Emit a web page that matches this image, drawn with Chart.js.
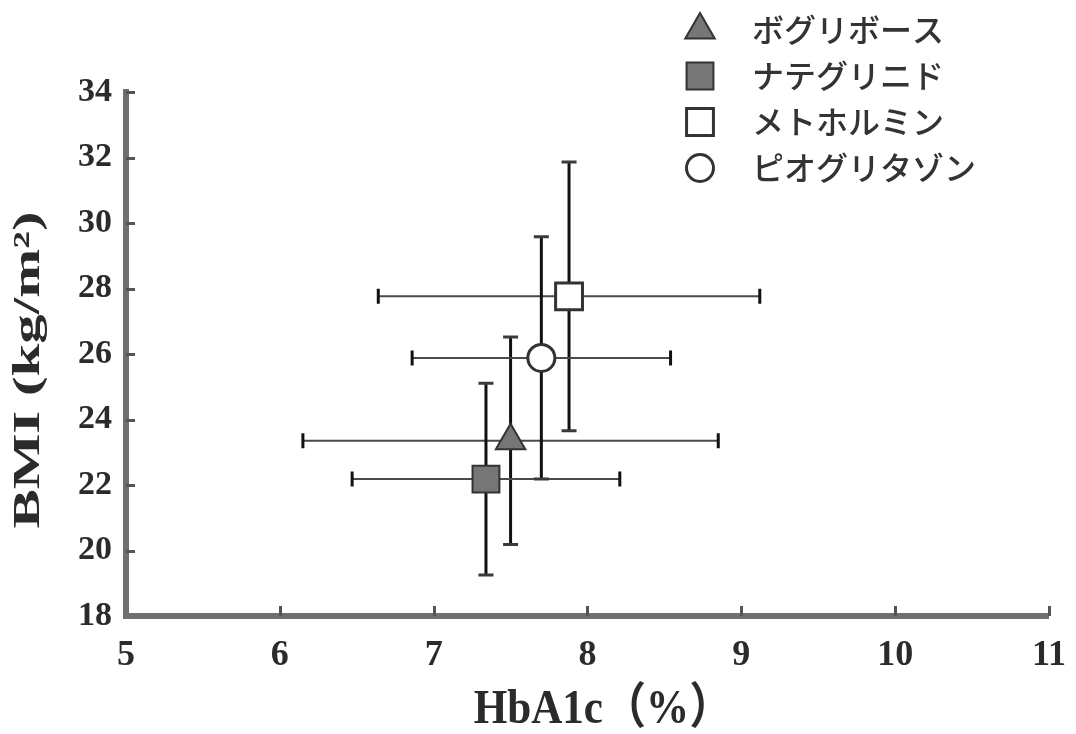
<!DOCTYPE html>
<html lang="ja">
<head>
  <meta charset="UTF-8">
  <title>HbA1c と BMI</title>
  <script src="https://cdn.jsdelivr.net/npm/chart.js"></script>
  <style>
    body {
      margin: 0;
      background: #fff;
    }
    #chart {
      display: block;
    }
  </style>
</head>
<body>
  <canvas id="chart" width="1076" height="734"></canvas>
  <script>
    // 薬剤ごとの平均値と標準偏差
    const drugs = ["ボグリボース", "ナテグリニド", "メトホルミン", "ピオグリタゾン"];
    const hba1cMean = [7.50, 7.34, 7.88, 7.70];
    const hba1cSD = [1.35, 0.87, 1.24, 0.84];
    const bmiMean = [23.35, 22.18, 27.76, 25.88];
    const bmiSD = [3.17, 2.93, 4.10, 3.70];

    const xTicks = [5, 6, 7, 8, 9, 10, 11];
    const yTicks = [18, 20, 22, 24, 26, 28, 30, 32, 34];

    const serif = "'Liberation Serif', 'Times New Roman', serif";
    const ink = "#2b2b2b";

    const markerStyles = [
      { pointStyle: "triangle", radius: 17, bg: "#767676", border: "#333", width: 2 },
      { pointStyle: "rect", radius: 19, bg: "#767676", border: "#333", width: 2 },
      { pointStyle: "rect", radius: 19, bg: "#ffffff", border: "#333", width: 3 },
      { pointStyle: "circle", radius: 13.5, bg: "#ffffff", border: "#333", width: 3 },
    ];

    const datasets = drugs.map((name, i) => ({
      label: name,
      data: [{ x: hba1cMean[i], y: bmiMean[i] }],
      pointStyle: markerStyles[i].pointStyle,
      pointRadius: markerStyles[i].radius,
      pointBackgroundColor: markerStyles[i].bg,
      pointBorderColor: markerStyles[i].border,
      pointBorderWidth: markerStyles[i].width,
    }));

    // エラーバー（縦：BMI、横：HbA1c）
    const errorBars = {
      id: "errorBars",
      beforeDatasetsDraw(chart) {
        const { ctx, scales: { x, y } } = chart;
        const cap = 7.5;
        ctx.save();
        drugs.forEach((_, i) => {
          const cx = x.getPixelForValue(hba1cMean[i]);
          const cy = y.getPixelForValue(bmiMean[i]);
          const x0 = x.getPixelForValue(hba1cMean[i] - hba1cSD[i]);
          const x1 = x.getPixelForValue(hba1cMean[i] + hba1cSD[i]);
          const y0 = y.getPixelForValue(bmiMean[i] - bmiSD[i]);
          const y1 = y.getPixelForValue(bmiMean[i] + bmiSD[i]);

          // 横棒
          ctx.strokeStyle = "#4a4a4a";
          ctx.lineWidth = 2;
          ctx.beginPath();
          ctx.moveTo(x0, cy);
          ctx.lineTo(x1, cy);
          ctx.stroke();
          ctx.strokeStyle = "#111";
          ctx.lineWidth = 3;
          ctx.beginPath();
          ctx.moveTo(x0, cy - cap);
          ctx.lineTo(x0, cy + cap);
          ctx.moveTo(x1, cy - cap);
          ctx.lineTo(x1, cy + cap);
          ctx.stroke();

          // 縦棒
          ctx.strokeStyle = "#111";
          ctx.lineWidth = 3;
          ctx.beginPath();
          ctx.moveTo(cx, y0);
          ctx.lineTo(cx, y1);
          ctx.stroke();
          ctx.strokeStyle = "#3a3a3a";
          ctx.lineWidth = 3;
          ctx.beginPath();
          ctx.moveTo(cx - cap, y0);
          ctx.lineTo(cx + cap, y0);
          ctx.moveTo(cx - cap, y1);
          ctx.lineTo(cx + cap, y1);
          ctx.stroke();
        });
        ctx.restore();
      },
    };

    // 内向きの目盛り、軸タイトル、凡例
    const decorations = {
      id: "decorations",
      afterDraw(chart) {
        const { ctx, scales: { x, y }, chartArea } = chart;
        ctx.save();
        ctx.strokeStyle = "#555";
        ctx.lineWidth = 3;
        ctx.beginPath();
        yTicks.slice(1).forEach(v => {
          const py = Math.round(y.getPixelForValue(v)) + 0.5;
          ctx.moveTo(chartArea.left, py);
          ctx.lineTo(chartArea.left + 9, py);
        });
        xTicks.slice(1).forEach(v => {
          const px = Math.round(x.getPixelForValue(v)) + 0.5;
          ctx.moveTo(px, chartArea.bottom);
          ctx.lineTo(px, chartArea.bottom - 10);
        });
        ctx.stroke();

        // 軸タイトル
        ctx.fillStyle = ink;
        ctx.textAlign = "center";
        ctx.textBaseline = "middle";
        ctx.save();
        ctx.translate(29, 370);
        ctx.rotate(-Math.PI / 2);
        ctx.scale(1.55, 1);
        ctx.font = `bold 38px ${serif}`;
        ctx.fillText("BMI (kg/m²)", 0, 0);
        ctx.restore();

        ctx.save();
        ctx.translate(603, 710);
        ctx.scale(0.88, 1);
        ctx.font = `bold 49px ${serif}, 'Noto Sans CJK JP'`;
        ctx.fillText("HbA1c（%）", 0, 0);
        ctx.restore();

        // 凡例
        const rowY = [30, 76, 122, 168];
        ctx.font = "500 32px 'Noto Sans CJK JP'";
        ctx.textAlign = "left";
        drugs.forEach((name, i) => {
          const m = markerStyles[i];
          ctx.fillStyle = m.bg;
          ctx.strokeStyle = m.border;
          ctx.lineWidth = m.width;
          Chart.helpers.drawPoint(ctx, {
            pointStyle: m.pointStyle,
            radius: m.radius,
            rotation: 0,
            borderWidth: m.width,
          }, 700, rowY[i]);
          ctx.fillStyle = "#333";
          ctx.fillText(name, 752, rowY[i]);
        });
        ctx.restore();
      },
    };

    const ctx = document.getElementById("chart").getContext("2d");
    new Chart(ctx, {
      type: "scatter",
      data: { datasets },
      plugins: [errorBars, decorations],
      options: {
        responsive: false,
        animation: false,
        layout: {
          padding: { top: 92, right: 14, left: 0, bottom: 0 },
        },
        plugins: {
          legend: { display: false },
          tooltip: { enabled: false },
        },
        scales: {
          x: {
            type: "linear",
            min: xTicks[0],
            max: xTicks[xTicks.length - 1],
            afterBuildTicks: s => { s.ticks = xTicks.map(v => ({ value: v })); },
            afterFit: s => { s.height = 118; },
            grid: { display: false },
            border: { display: true, width: 6, color: "#6f6f6f" },
            ticks: {
              color: ink,
              padding: 10,
              font: { family: serif, size: 36, weight: "bold" },
            },
          },
          y: {
            type: "linear",
            min: yTicks[0],
            max: yTicks[yTicks.length - 1],
            afterBuildTicks: s => { s.ticks = yTicks.map(v => ({ value: v })); },
            afterFit: s => { s.width = 126; },
            grid: { display: false },
            border: { display: true, width: 6, color: "#6f6f6f" },
            ticks: {
              color: ink,
              padding: 6,
              font: { family: serif, size: 34, weight: "bold" },
            },
          },
        },
      },
    });
  </script>
</body>
</html>
